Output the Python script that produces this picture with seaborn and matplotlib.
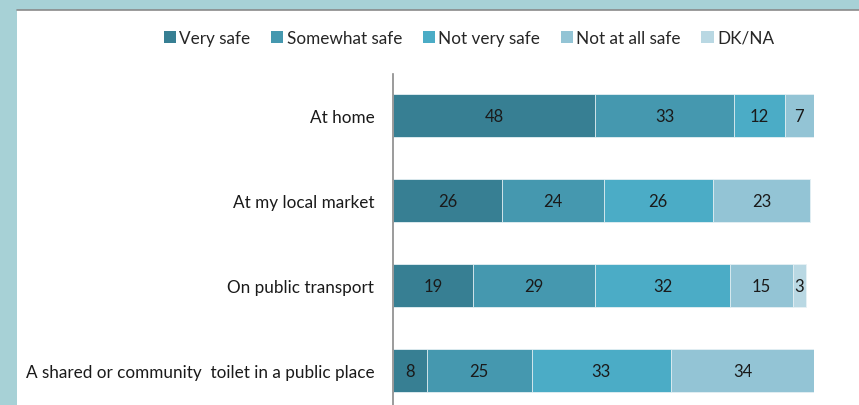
import numpy as np
import pandas as pd
import matplotlib
matplotlib.use('Agg')
import matplotlib.pyplot as plt
import seaborn as sns
from matplotlib.patches import Rectangle, Patch
from matplotlib.lines import Line2D

# Data
places = ['At home', 'At my local market', 'On public transport',
          'A shared or community  toilet in a public place']
answers = ['Very safe', 'Somewhat safe', 'Not very safe', 'Not at all safe', 'DK/NA']
very_safe = [48, 26, 19, 8]
somewhat_safe = [33, 24, 29, 25]
not_very_safe = [12, 26, 32, 33]
not_at_all_safe = [7, 23, 15, 34]
dk_na = [0, 0, 3, 0]

colors = ['#377f93', '#4598af', '#4bacc6', '#93c4d5', '#b9d8e3']

df = pd.DataFrame({'place': places, 'Very safe': very_safe, 'Somewhat safe': somewhat_safe,
                   'Not very safe': not_very_safe, 'Not at all safe': not_at_all_safe,
                   'DK/NA': dk_na})

sns.set_theme(style='white')
plt.rcParams['font.family'] = ['Lato', 'DejaVu Sans']

fig = plt.figure(figsize=(8.59, 4.06), dpi=100)
fig.patch.set_facecolor('#a7d1d6')
# white panel with gray top line
fig.patches.append(Rectangle((17 / 859, 0), 1, 1 - 11 / 406, transform=fig.transFigure,
                             facecolor='white', edgecolor='none', zorder=-5))
fig.lines.append(Line2D([17 / 859, 1], [1 - 10.5 / 406] * 2, transform=fig.transFigure,
                        color='#8a8a8a', lw=1.2, zorder=-4))

ax = fig.add_axes([393 / 859, 0, 421 / 859, 1 - 75 / 406])
ax.set_facecolor('none')
ax.set_zorder(1)

# stacked bars: draw cumulative totals from right to left
cum = df[answers].cumsum(axis=1)
for i in range(len(answers) - 1, -1, -1):
    sns.barplot(x=cum[answers[i]], y=df['place'], color=colors[i], width=0.51,
                orient='h', ax=ax, edgecolor='#e8f2f5', linewidth=0.6, saturation=1)

# value labels
for r in range(len(places)):
    left = 0
    for a in answers:
        v = df.loc[r, a]
        if v > 0:
            ax.text(left + v / 2, r + 0.01, str(v), ha='center', va='center',
                    fontsize=12, color='#1a1a1a')
        left += v

ax.set_xlim(0, 100)
ax.set_ylim(3.406, -0.488)
ax.set_xlabel('')
ax.set_ylabel('')
ax.set_xticks([])
ax.tick_params(axis='y', length=0, pad=13.5, labelsize=12.3, labelcolor='#1a1a1a')
for s in ['top', 'right', 'bottom']:
    ax.spines[s].set_visible(False)
ax.spines['left'].set_color('#8a8a8a')
ax.spines['left'].set_linewidth(1.2)

handles = [Patch(facecolor=c, edgecolor='none') for c in colors]
fig.legend(handles, answers, loc='center', bbox_to_anchor=(0.546, 1 - 39 / 406), ncol=5,
           frameon=False, fontsize=12.3, handlelength=0.72, handleheight=0.72,
           handletextpad=0.2, columnspacing=1.2)

fig.savefig('out.png', dpi=100)
